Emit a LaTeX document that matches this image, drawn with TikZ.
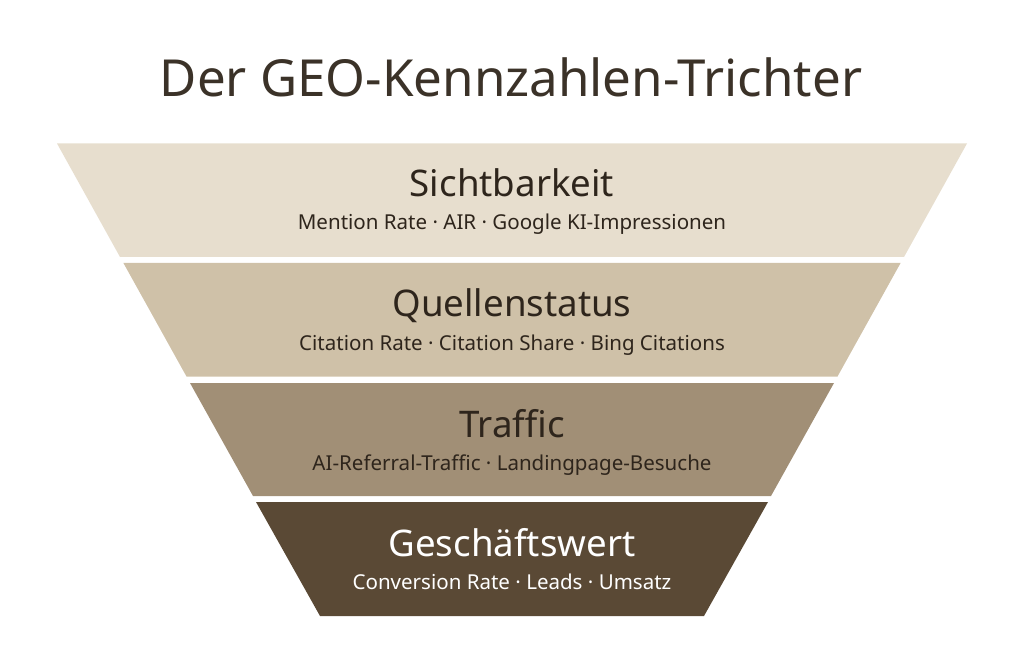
\documentclass[tikz,border=0pt]{standalone}
\usepackage{fontspec}
\setmainfont{Noto Sans}
\usepackage{tikz}

\definecolor{titlegray}{HTML}{3B3228}
\definecolor{inkbrown}{HTML}{2E251C}
\definecolor{bandone}{HTML}{E7DECE}
\definecolor{bandtwo}{HTML}{CFC1A8}
\definecolor{bandthree}{HTML}{A18F76}
\definecolor{bandfour}{HTML}{5A4935}

\tikzset{
  headline/.style={anchor=base,font=\fontsize{27.5}{30}\selectfont},
  metrics/.style={anchor=base,font=\fontsize{15.4}{18}\selectfont},
}

\begin{document}
\begin{tikzpicture}[x=0.75pt,y=-0.75pt]
\useasboundingbox (0,0) rectangle (1024,670);

\node[anchor=base,text=titlegray,font=\fontsize{38.3}{42}\selectfont] (title) at (511,97) {Der GEO-Kennzahlen-Trichter} ;

\fill[bandone] (57,143.5) -- (967,143.5) -- (904,257) -- (120,257) -- cycle ;
\node[headline,text=inkbrown] (sicht) at (512,197) {Sichtbarkeit} ;
\node[metrics,text=inkbrown] (sichtkpi) at (512,230) {Mention Rate · AIR · Google KI-Impressionen} ;

\fill[bandtwo] (123.4,263) -- (900.6,263) -- (837.5,376.5) -- (186.5,376.5) -- cycle ;
\node[headline,text=inkbrown] (quelle) at (512,316.5) {Quellenstatus} ;
\node[metrics,text=inkbrown] (quellekpi) at (512,350) {Citation Rate · Citation Share · Bing Citations} ;

\fill[bandthree] (190,383) -- (834,383) -- (771,496) -- (253,496) -- cycle ;
\node[headline,text=inkbrown] (traffic) at (512,437) {Traffic} ;
\node[metrics,text=inkbrown] (traffickpi) at (512,470) {AI-Referral-Traffic · Landingpage-Besuche} ;

\fill[bandfour] (256,502) -- (768,502) -- (704,616) -- (320,616) -- cycle ;
\node[headline,text=white] (wert) at (512,556) {Geschäftswert} ;
\node[metrics,text=white] (wertkpi) at (512,589) {Conversion Rate · Leads · Umsatz} ;

\end{tikzpicture}
\end{document}
